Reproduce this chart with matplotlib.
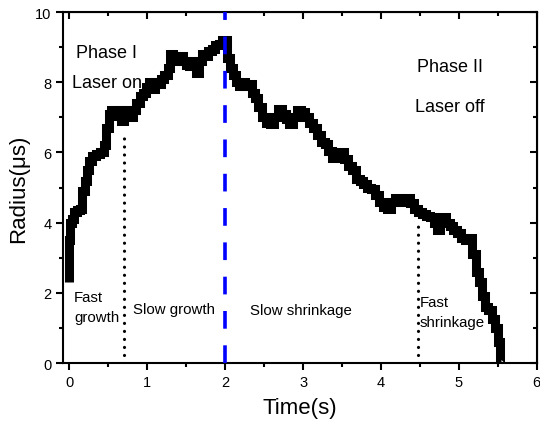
import matplotlib
matplotlib.use("Agg")
import matplotlib.pyplot as plt
from matplotlib.ticker import MultipleLocator

plt.rcParams["font.family"] = ["Liberation Sans", "DejaVu Sans"]

# radius trace
time_s = [0.00, 0.00, 0.02, 0.05, 0.08, 0.12, 0.15, 0.18, 0.21, 0.24, 0.27, 0.31,
          0.36, 0.42, 0.46, 0.49, 0.52, 0.56, 0.60, 0.64, 0.68, 0.72, 0.76, 0.80,
          0.84, 0.88, 0.92, 0.96, 1.00, 1.04, 1.08, 1.12, 1.16, 1.20, 1.24, 1.28,
          1.31, 1.35, 1.40, 1.44, 1.48, 1.52, 1.56, 1.60, 1.64, 1.68, 1.72, 1.76,
          1.80, 1.85, 1.90, 1.95, 1.98, 2.01, 2.04, 2.08, 2.12, 2.16, 2.20, 2.24,
          2.28, 2.32, 2.36, 2.40, 2.45, 2.50, 2.55, 2.60, 2.65, 2.70, 2.75, 2.80,
          2.85, 2.90, 2.95, 3.00, 3.05, 3.10, 3.15, 3.20, 3.25, 3.30, 3.35, 3.40,
          3.45, 3.50, 3.55, 3.60, 3.65, 3.70, 3.75, 3.80, 3.85, 3.90, 3.95, 4.00,
          4.05, 4.10, 4.15, 4.20, 4.25, 4.30, 4.35, 4.40, 4.45, 4.50, 4.55, 4.60,
          4.65, 4.70, 4.74, 4.78, 4.82, 4.86, 4.90, 4.95, 5.00, 5.05, 5.10, 5.15,
          5.20, 5.24, 5.28, 5.32, 5.36, 5.40, 5.44, 5.48, 5.52, 5.54]
radius = [2.3, 3.5, 4.0, 4.1, 4.3, 4.35, 4.4, 4.9, 5.2, 5.5, 5.75, 5.9,
          5.95, 6.0, 6.2, 6.7, 7.1, 7.2, 7.05, 7.2, 6.9, 7.1, 7.2, 7.0,
          7.2, 7.4, 7.6, 7.7, 7.85, 8.0, 7.8, 8.0, 7.95, 8.1, 8.2, 8.4,
          8.8, 8.75, 8.6, 8.75, 8.6, 8.5, 8.45, 8.6, 8.25, 8.6, 8.8, 8.75,
          8.9, 8.95, 9.05, 9.1, 9.2, 9.2, 8.7, 8.4, 8.2, 8.0, 7.9, 8.0,
          7.9, 7.95, 7.7, 7.55, 7.3, 7.0, 6.85, 6.8, 7.0, 7.25, 7.1, 6.95,
          6.8, 7.0, 7.2, 7.15, 7.0, 6.85, 6.7, 6.5, 6.3, 6.25, 6.05, 5.85,
          5.9, 6.0, 5.8, 5.6, 5.5, 5.25, 5.2, 5.1, 5.0, 4.95, 4.8, 4.6,
          4.45, 4.4, 4.6, 4.7, 4.65, 4.6, 4.7, 4.55, 4.4, 4.3, 4.25, 4.2,
          4.15, 4.0, 3.8, 4.1, 4.15, 4.0, 3.9, 3.8, 3.7, 3.55, 3.5, 3.55,
          3.1, 2.6, 2.3, 1.9, 1.6, 1.5, 1.25, 1.0, 0.6, 0.0]

laser_off_t = 2.0
boundary_t = [0.7, 4.47]
boundary_top = [6.6, 4.1]

fig = plt.figure(figsize=(5.4, 4.27), dpi=100)
ax = fig.add_axes([0.117, 0.1475, 0.877, 0.822])

# curve sits over the labels, the blue marker over the curve
ax.plot(time_s, radius, color="black", lw=6.5, drawstyle="steps-mid",
        solid_joinstyle="miter", solid_capstyle="butt", zorder=3.5)
ax.axvline(laser_off_t, color="#0000ff", lw=2.6, ls=(0, (4.9, 4.6)), zorder=4)
for t, top in zip(boundary_t, boundary_top):
    ax.plot([t, t], [0, top], color="black", lw=2.3, ls=(0, (0.01, 2.5)),
            dash_capstyle="round")

ax.text(0.48, 8.85, "Phase I", fontsize=13, ha="center", va="center")
ax.text(0.03, 8.0, "Laser on", fontsize=13, ha="left", va="center")
ax.text(4.88, 8.45, "Phase II", fontsize=13, ha="center", va="center")
ax.text(4.88, 7.3, "Laser off", fontsize=13, ha="center", va="center")
ax.text(0.06, 1.6, "Fast\ngrowth", fontsize=10.8, ha="left", va="center",
        linespacing=1.55)
ax.text(0.82, 1.55, "Slow growth", fontsize=10.8, ha="left", va="center")
ax.text(2.32, 1.5, "Slow shrinkage", fontsize=10.8, ha="left", va="center")
ax.text(4.5, 1.45, "Fast\nshrinkage", fontsize=10.8, ha="left", va="center",
        linespacing=1.55)

ax.set_xlim(-0.08, 6)
ax.set_ylim(0, 10)
ax.xaxis.set_major_locator(MultipleLocator(1))
ax.xaxis.set_minor_locator(MultipleLocator(0.5))
ax.yaxis.set_major_locator(MultipleLocator(2))
ax.yaxis.set_minor_locator(MultipleLocator(1))
ax.tick_params(which="both", direction="out", width=1.5, labelsize=10.5,
               top=False, right=False)
ax.tick_params(which="major", length=5)
ax.tick_params(which="minor", length=3)
for side in ax.spines.values():
    side.set_linewidth(1.5)

# mirror ticks on top / right pointing inward
ax_top = ax.secondary_xaxis("top")
ax_top.xaxis.set_major_locator(MultipleLocator(1))
ax_top.xaxis.set_minor_locator(MultipleLocator(0.5))
ax_top.tick_params(which="both", direction="in", width=1.5, labeltop=False)
ax_top.tick_params(which="major", length=5)
ax_top.tick_params(which="minor", length=3)
ax_right = ax.secondary_yaxis("right")
ax_right.yaxis.set_major_locator(MultipleLocator(2))
ax_right.yaxis.set_minor_locator(MultipleLocator(1))
ax_right.tick_params(which="both", direction="in", width=1.5, labelright=False)
ax_right.tick_params(which="major", length=5)
ax_right.tick_params(which="minor", length=3)

ax.set_xlabel("Time(s)", fontsize=16, labelpad=6)
ax.set_ylabel("Radius(\u03bcs)", fontsize=16, labelpad=4)

fig.savefig("out.png", dpi=100)
